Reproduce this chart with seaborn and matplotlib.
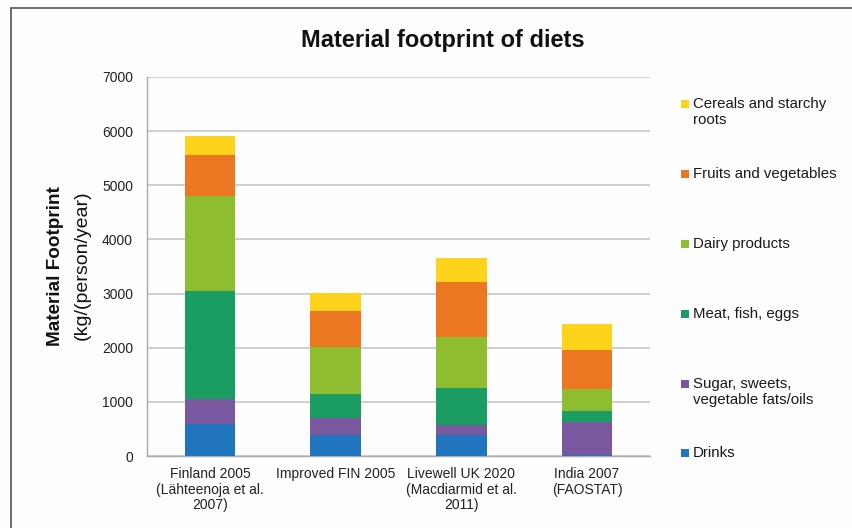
import matplotlib
matplotlib.use("Agg")
import matplotlib.pyplot as plt
import numpy as np
import pandas as pd
import seaborn as sns
from matplotlib.patches import Rectangle
from matplotlib.lines import Line2D

# Diets compared (x categories)
diets = [
    "Finland 2005\n(Lähteenoja et al.\n2007)",
    "Improved FIN 2005",
    "Livewell UK 2020\n(Macdiarmid et al.\n2011)",
    "India 2007\n(FAOSTAT)",
]

# Food groups, bottom to top of each stack
groups = [
    "Drinks",
    "Sugar, sweets,\nvegetable fats/oils",
    "Meat, fish, eggs",
    "Dairy products",
    "Fruits and vegetables",
    "Cereals and starchy\nroots",
]

# Material footprint per group, kg/(person/year)
drinks = [590, 390, 380, 20]
sugar = [470, 320, 200, 600]
meat = [1990, 440, 680, 220]
dairy = [1750, 865, 940, 400]
fruits = [760, 670, 1005, 725]
cereals = [345, 320, 455, 480]

colors = ["#2175BD", "#7A58A0", "#1B9C62", "#8FBD31", "#EC7723", "#FFD21C"]

yticks = [0, 1000, 2000, 3000, 4000, 5000, 6000, 7000]

sns.set_theme(style="white")
plt.rcParams["font.family"] = ["Liberation Sans", "DejaVu Sans"]

values = [drinks, sugar, meat, dairy, fruits, cereals]
df = pd.DataFrame({g: v for g, v in zip(groups, values)})
df["diet"] = diets
cum = df[groups].cumsum(axis=1)

fig = plt.figure(figsize=(8.52, 5.28), dpi=100, facecolor="#FDFDFD")
ax = fig.add_axes([147 / 852, 1 - 456 / 528, (650 - 147) / 852, (456 - 77) / 528])
ax.set_facecolor("#FDFDFD")

# Stacked bars: draw cumulative totals from the top layer down
for g, c in reversed(list(zip(groups, colors))):
    sns.barplot(x=df["diet"], y=cum[g], color=c, width=0.4, saturation=1,
                order=diets, ax=ax, linewidth=0, zorder=3)

ax.set_ylim(0, 7000)
ax.set_xlim(-0.5, 3.5)
ax.set_yticks(yticks)
ax.set_yticklabels([str(t) for t in yticks], fontsize=10, color="#222222")
ax.set_xticks(range(len(diets)))
ax.set_xticklabels(diets, fontsize=10, color="#222222", linespacing=1.15)
ax.set_xticks(np.arange(-0.5, 4.0, 1.0), minor=True)
ax.tick_params(axis="x", which="major", length=0, pad=8)
ax.tick_params(axis="x", which="minor", length=5, color="#AAAAAA", width=1, direction="out")
ax.tick_params(axis="y", which="major", length=5, color="#AAAAAA", width=1, direction="out", pad=5)
ax.yaxis.grid(True, color="#C8C8C8", linewidth=1.2, zorder=0)
ax.set_axisbelow(True)
for side in ["top", "right"]:
    ax.spines[side].set_visible(False)
for side in ["left", "bottom"]:
    ax.spines[side].set_color("#AAAAAA")
    ax.spines[side].set_linewidth(1)
ax.set_xlabel("")
ax.set_ylabel("")

# Two-line y-axis title: bold first line, regular second line
fig.text(56 / 852, 1 - 266 / 528, "Material Footprint", rotation=90, fontsize=13.6,
         fontweight="bold", ha="center", va="center", color="#111111")
fig.text(82 / 852, 1 - 265 / 528, "(kg/(person/year)", rotation=90, fontsize=14,
         ha="center", va="center", color="#111111")

fig.text(443 / 852, 1 - 41 / 528, "Material footprint of diets", fontsize=17,
         fontweight="bold", ha="center", va="center", color="#111111")

# Legend, top entry first
legend_y = [104, 174, 244, 314, 384, 453]
for (g, c), y in zip(reversed(list(zip(groups, colors))), legend_y):
    fig.patches.append(Rectangle((681 / 852, 1 - (y + 4) / 528), 8 / 852, 8 / 528,
                                 transform=fig.transFigure, facecolor=c, edgecolor="none"))
    fig.text(693 / 852, 1 - (y - 7) / 528, g, fontsize=10.8, ha="left", va="top",
             color="#1A1A1A", linespacing=1.2)

# Frame lines along the top and left edges
fig.add_artist(Line2D([11 / 852, 1], [1 - 8 / 528, 1 - 8 / 528], transform=fig.transFigure,
                      color="#555555", linewidth=1.2))
fig.add_artist(Line2D([11 / 852, 11 / 852], [0, 1 - 8 / 528], transform=fig.transFigure,
                      color="#555555", linewidth=1.2))

fig.savefig("out.png", dpi=100, facecolor=fig.get_facecolor())
